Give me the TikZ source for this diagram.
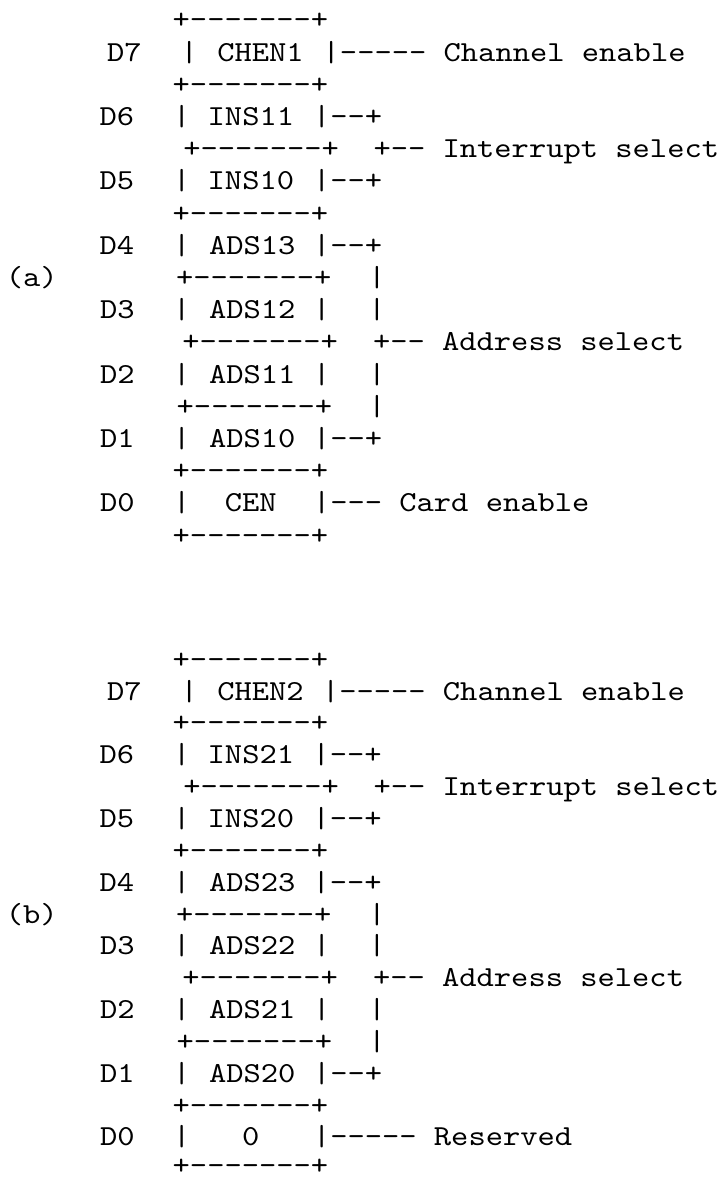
\documentclass[tikz,border=0pt]{standalone}
\usepackage{fontspec}
\setmonofont{lmmono10-regular.otf}[FakeStretch=1.135]
\tikzset{asc/.style={anchor=base west, inner sep=0pt, outer sep=0pt, text=black,
  font=\ttfamily\fontsize{29pt}{32pt}\selectfont}}
\begin{document}
\begin{tikzpicture}[x={(1pt,0pt)}, y={(0pt,-1pt)}]
\useasboundingbox (0,0) rectangle (722,1178);
% ---------------- (a) ----------------
\node[asc] (a0) at (172.7,28.8) {+-------+};
\node[asc] (a1d) at (107,61) {D7};
\node[asc] (a1l) at (180.7,61) {|};
\node[asc] (a1t) at (217.3,61) {CHEN1};
\node[asc] (a1r) at (322.7,61) {|----- Channel enable};
\node[asc] (a2) at (172.7,93.2) {+-------+};
\node[asc] (a3d) at (99.5,125.4) {D6};
\node[asc] (a3l) at (173,125.4) {|};
\node[asc] (a3t) at (207.7,125.4) {INS11};
\node[asc] (a3r) at (313,125.4) {|--+};
\node[asc] (a4) at (183.4,157.6) {+-------+};
\node[asc] (a4r) at (373.5,157.6) {+-- Interrupt select};
\node[asc] (a5d) at (99.5,189.8) {D5};
\node[asc] (a5l) at (173,189.8) {|};
\node[asc] (a5t) at (207.7,189.8) {INS10};
\node[asc] (a5r) at (313,189.8) {|--+};
\node[asc] (a6) at (172.7,222) {+-------+};
\node[asc] (a7d) at (99.5,254.2) {D4};
\node[asc] (a7l) at (173,254.2) {|};
\node[asc] (a7t) at (209,254.2) {ADS13};
\node[asc] (a7r) at (313,254.2) {|--+};
\node[asc] (alab) at (5.9,286.4) {(a)};
\node[asc] (a8) at (176,286.4) {+-------+};
\node[asc] (a8v) at (368.4,286.4) {|};
\node[asc] (a9d) at (100.2,318.6) {D3};
\node[asc] (a9l) at (173,318.6) {|};
\node[asc] (a9t) at (209,318.6) {ADS12};
\node[asc] (a9r) at (313,318.6) {|};
\node[asc] (a9v) at (368.4,318.6) {|};
\node[asc] (a10) at (182.4,350.8) {+-------+};
\node[asc] (a10r) at (373,350.8) {+-- Address select};
\node[asc] (a11d) at (100.2,383) {D2};
\node[asc] (a11l) at (173,383) {|};
\node[asc] (a11t) at (209,383) {ADS11};
\node[asc] (a11r) at (313,383) {|};
\node[asc] (a11v) at (368.4,383) {|};
\node[asc] (a12) at (176.7,415.2) {+-------+};
\node[asc] (a12v) at (368.4,415.2) {|};
\node[asc] (a13d) at (100.2,447.4) {D1};
\node[asc] (a13l) at (173,447.4) {|};
\node[asc] (a13t) at (209,447.4) {ADS10};
\node[asc] (a13r) at (313,447.4) {|--+};
\node[asc] (a14) at (172.7,479.6) {+-------+};
\node[asc] (a15d) at (100.2,511.8) {D0};
\node[asc] (a15l) at (173,511.8) {|};
\node[asc] (a15t) at (224.8,511.8) {CEN};
\node[asc] (a15r) at (313,511.8) {|--- Card enable};
\node[asc] (a16) at (172.7,544) {+-------+};
% ---------------- (b) ----------------
\node[asc] (b0) at (172.7,668.2) {+-------+};
\node[asc] (b1d) at (107,700) {D7};
\node[asc] (b1l) at (180.7,700) {|};
\node[asc] (b1t) at (217.3,700) {CHEN2};
\node[asc] (b1r) at (322,700) {|----- Channel enable};
\node[asc] (b2) at (172.7,731.9) {+-------+};
\node[asc] (b3d) at (99.5,763.7) {D6};
\node[asc] (b3l) at (173,763.7) {|};
\node[asc] (b3t) at (207.7,763.7) {INS21};
\node[asc] (b3r) at (312.5,763.7) {|--+};
\node[asc] (b4) at (183.4,795.6) {+-------+};
\node[asc] (b4r) at (373.5,795.6) {+-- Interrupt select};
\node[asc] (b5d) at (99.5,827.4) {D5};
\node[asc] (b5l) at (173,827.4) {|};
\node[asc] (b5t) at (207.7,827.4) {INS20};
\node[asc] (b5r) at (312.5,827.4) {|--+};
\node[asc] (b6) at (172.7,859.3) {+-------+};
\node[asc] (b7d) at (99.5,891.1) {D4};
\node[asc] (b7l) at (173,891.1) {|};
\node[asc] (b7t) at (209,891.1) {ADS23};
\node[asc] (b7r) at (312.5,891.1) {|--+};
\node[asc] (blab) at (5.9,923) {(b)};
\node[asc] (b8) at (176,923) {+-------+};
\node[asc] (b8v) at (368.4,923) {|};
\node[asc] (b9d) at (100.2,954.8) {D3};
\node[asc] (b9l) at (173,954.8) {|};
\node[asc] (b9t) at (209,954.8) {ADS22};
\node[asc] (b9r) at (313,954.8) {|};
\node[asc] (b9v) at (368.4,954.8) {|};
\node[asc] (b10) at (182.4,986.7) {+-------+};
\node[asc] (b10r) at (373,986.7) {+-- Address select};
\node[asc] (b11d) at (100.2,1018.5) {D2};
\node[asc] (b11l) at (173,1018.5) {|};
\node[asc] (b11t) at (209,1018.5) {ADS21};
\node[asc] (b11r) at (313,1018.5) {|};
\node[asc] (b11v) at (368.4,1018.5) {|};
\node[asc] (b12) at (176.7,1050.4) {+-------+};
\node[asc] (b12v) at (368.4,1050.4) {|};
\node[asc] (b13d) at (100.2,1082.2) {D1};
\node[asc] (b13l) at (173,1082.2) {|};
\node[asc] (b13t) at (209,1082.2) {ADS20};
\node[asc] (b13r) at (313,1082.2) {|--+};
\node[asc] (b14) at (172.7,1114.1) {+-------+};
\node[asc] (b15d) at (100.2,1145.9) {D0};
\node[asc] (b15l) at (173,1145.9) {|};
\node[asc] (b15t) at (242.1,1145.9) {0};
\node[asc] (b15r) at (313,1145.9) {|----- Reserved};
\node[asc] (b16) at (172.7,1174.5) {+-------+};
\end{tikzpicture}
\end{document}
